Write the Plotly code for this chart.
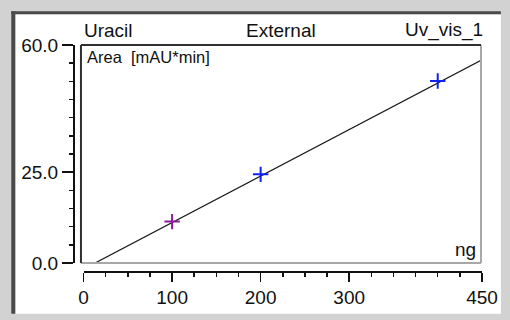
import plotly.graph_objects as go

# ---- data ----
line_x = [13, 450]
line_y = [0.0, 55.9]
pt_x_purple = [100]
pt_y_purple = [11.4]
pt_x_blue = [200, 400]
pt_y_blue = [24.4, 50.1]

x_tickvals = [0, 100, 200, 300, 400, 450]
x_ticktext = ["0", "100", "200", "300", "", "450"]
x_minor = list(range(0, 451, 25))
y_tickvals = [0, 25, 60]
y_ticktext = ["0.0", "25.0", "60.0"]
y_minor = list(range(0, 61, 5))

title_left = "Uracil"
title_mid = "External"
title_right = "Uv_vis_1"
y_label = "Area  [mAU*min]"
x_label = "ng"

# ---- layout geometry (pixels) ----
W, H = 510, 320
L, R, T, B = 73, 484, 45, 272
PW, PH = R - L, B - T


def px(x):
    return (x - L) / PW


def py(y):
    return (B - y) / PH


FONT = "Liberation Sans, Arial, sans-serif"
FS = 19

fig = go.Figure()
fig.add_trace(go.Scatter(x=line_x, y=line_y, mode="lines",
                         line=dict(color="#1a1a1a", width=1.2),
                         hoverinfo="skip", showlegend=False))
fig.add_trace(go.Scatter(x=pt_x_purple, y=pt_y_purple, mode="markers",
                         marker=dict(symbol="cross-thin", size=11,
                                     line=dict(color="#8e1a9e", width=2)),
                         showlegend=False))
fig.add_trace(go.Scatter(x=pt_x_blue, y=pt_y_blue, mode="markers",
                         marker=dict(symbol="cross-thin", size=11,
                                     line=dict(color="#1020f0", width=2)),
                         showlegend=False))

shapes = []
# outer frame: white canvas + dark top/left borders
shapes.append(dict(type="rect", xref="paper", yref="paper", layer="below",
                   x0=px(15), x1=px(503), y0=py(315), y1=py(14),
                   fillcolor="white", line=dict(width=0)))
shapes.append(dict(type="rect", xref="paper", yref="paper", layer="below",
                   x0=px(11), x1=px(503), y0=py(14), y1=py(11),
                   fillcolor="#4a4a4a", line=dict(width=0)))
shapes.append(dict(type="rect", xref="paper", yref="paper", layer="below",
                   x0=px(11), x1=px(15), y0=py(315), y1=py(11),
                   fillcolor="#4a4a4a", line=dict(width=0)))
# inner box (inset look)
bx0, bx1, by0, by1 = px(81), px(483), py(264), py(45)
shapes.append(dict(type="line", xref="paper", yref="paper",
                   x0=bx1, x1=bx1, y0=by0, y1=by1, line=dict(color="#a8a8a8", width=2)))
shapes.append(dict(type="line", xref="paper", yref="paper",
                   x0=bx0, x1=bx1, y0=by0, y1=by0, line=dict(color="#a8a8a8", width=2)))
shapes.append(dict(type="line", xref="paper", yref="paper",
                   x0=bx0, x1=bx1, y0=by1, y1=by1, line=dict(color="#303030", width=2)))
shapes.append(dict(type="line", xref="paper", yref="paper",
                   x0=bx0, x1=bx0, y0=by0, y1=by1, line=dict(color="#303030", width=2)))

ann = []
tf = dict(family=FONT, size=FS, color="#111")
ann.append(dict(text=title_left, xref="paper", yref="paper", x=px(82), y=py(30),
                xanchor="left", yanchor="middle", showarrow=False, font=tf))
ann.append(dict(text=title_mid, xref="paper", yref="paper", x=px(282), y=py(30),
                xanchor="center", yanchor="middle", showarrow=False, font=tf))
ann.append(dict(text=title_right, xref="paper", yref="paper", x=px(487), y=py(30),
                xanchor="right", yanchor="middle", showarrow=False, font=tf))
ann.append(dict(text=y_label, xref="paper", yref="paper", x=px(85), y=py(57),
                xanchor="left", yanchor="middle", showarrow=False,
                font=dict(family=FONT, size=16.5, color="#111")))
ann.append(dict(text=x_label, xref="paper", yref="paper", x=px(480), y=py(250),
                xanchor="right", yanchor="middle", showarrow=False, font=tf))

fig.update_layout(
    width=W, height=H,
    margin=dict(l=L, r=W - R, t=T, b=H - B, pad=0),
    paper_bgcolor="#d2d2d2",
    plot_bgcolor="rgba(0,0,0,0)",
    font=dict(family=FONT, size=FS, color="#111"),
    shapes=shapes,
    annotations=ann,
    xaxis=dict(domain=[px(83.6), 1], range=[0, 450], anchor="free", position=0,
               showgrid=False, zeroline=False, showline=True, linecolor="#111", linewidth=1.5,
               tickmode="array", tickvals=x_tickvals, ticktext=x_ticktext,
               ticks="outside", ticklen=9, tickwidth=1.5, tickcolor="#111",
               minor=dict(tickvals=x_minor, ticks="outside", ticklen=4, tickwidth=1.5, tickcolor="#111"),
               tickfont=dict(family=FONT, size=FS, color="#111"), fixedrange=True),
    yaxis=dict(domain=[py(264), 1], range=[0, 60], anchor="free", position=0,
               showgrid=False, zeroline=False, showline=True, linecolor="#111", linewidth=1.5,
               tickmode="array", tickvals=y_tickvals, ticktext=y_ticktext,
               ticks="outside", ticklen=11, tickwidth=1.5, tickcolor="#111",
               minor=dict(tickvals=y_minor, ticks="outside", ticklen=4, tickwidth=1.5, tickcolor="#111"),
               tickfont=dict(family=FONT, size=FS, color="#111"), fixedrange=True),
)

fig.write_html("out.html", config={"staticPlot": True},
               post_script="document.body.style.margin='0';document.body.style.background='#d2d2d2';")
